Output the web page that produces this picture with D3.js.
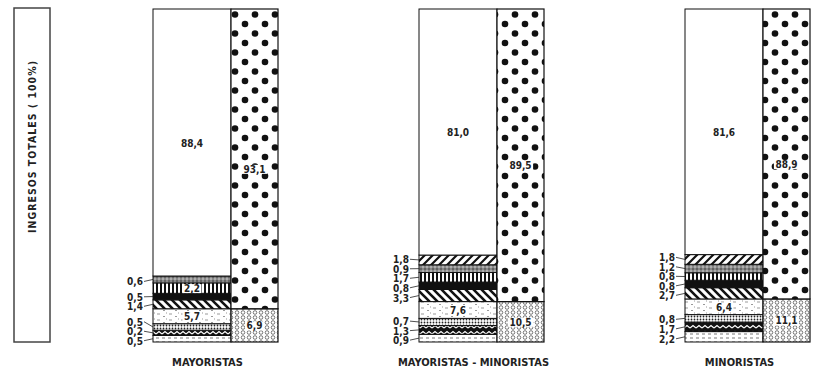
<!DOCTYPE html>
<html>
<head>
<meta charset="utf-8">
<script src="https://cdn.jsdelivr.net/npm/d3@7"></script>
<style>
  body { margin: 0; background: #fff; }
  text { font-family: "Liberation Sans Narrow", "DejaVu Sans Condensed", "Arial Narrow", sans-serif; font-weight: bold; fill: #222; }
</style>
</head>
<body>
<div id="container"></div>
<script>
const width = 821, height = 374;

// groups (bottom labels)
const groups = ["MAYORISTAS", "MAYORISTAS - MINORISTAS", "MINORISTAS"];

// left bar segments, bottom -> top (cat 8 missing for MAYORISTAS)
const leftMayoristas = [0.5, 0.2, 0.5, 5.7, 1.4, 0.5, 2.2, 0.6, 0, 88.4];
const leftMayMin     = [0.9, 1.3, 0.7, 7.6, 3.3, 0.8, 1.7, 0.9, 1.8, 81.0];
const leftMinoristas = [2.2, 1.7, 0.8, 6.4, 2.7, 0.8, 0.8, 1.2, 1.8, 81.6];

// right bar segments, bottom -> top
const rightMayoristas = [6.9, 93.1];
const rightMayMin     = [10.5, 89.5];
const rightMinoristas = [11.1, 88.9];

const leftValues = [leftMayoristas, leftMayMin, leftMinoristas];
const rightValues = [rightMayoristas, rightMayMin, rightMinoristas];

const axisTitle = "INGRESOS  TOTALES  ( 100%)";

const fmt = v => d3.format(".1f")(v).replace(".", ",");

/* SCALES */
const xScale = d3.scalePoint().domain(groups).range([153, 685]);
const yScale = d3.scaleLinear().domain([0, 100]).range([342, 9]);
// the small shares are drawn exaggerated (schematic figure), top share fills the rest
const hScale = d3.scaleSqrt().domain([0, 10]).range([3, 3 + 5 * Math.sqrt(10)]);

const leftW = 78, rightW = 47;

const svg = d3.select("#container").append("svg")
  .attr("width", width).attr("height", height);

/* PATTERNS */
const defs = svg.append("defs");
function pat(id, w, h, bg) {
  const p = defs.append("pattern").attr("id", id)
    .attr("patternUnits", "userSpaceOnUse").attr("width", w).attr("height", h);
  p.append("rect").attr("width", w).attr("height", h).attr("fill", bg);
  return p;
}
let p;
p = pat("c0", 6, 4, "#fff");
p.append("path").attr("d", "M0,2h3").attr("stroke", "#777").attr("stroke-width", 1);
p = pat("c1", 6, 6, "#111");
p.append("path").attr("d", "M0,4L3,1.5L6,4").attr("stroke", "#fff").attr("stroke-width", 1.2).attr("fill", "none");
p = pat("c2", 3, 3, "#fff");
p.append("circle").attr("cx", 1.5).attr("cy", 1.5).attr("r", 0.9).attr("fill", "#222");
p = pat("c3", 12, 6, "#fff");
p.append("path").attr("d", "M1,2h3M7,4.5h2M10,1h1").attr("stroke", "#999").attr("stroke-width", 1);
p = pat("c4", 8, 8, "#fff");
p.append("path").attr("d", "M0,0L8,8M-4,4L4,12M4,-4L12,4").attr("stroke", "#111").attr("stroke-width", 2.6);
p = pat("c5", 4, 4, "#111");
p = pat("c6", 4, 4, "#fff");
p.append("rect").attr("width", 2).attr("height", 4).attr("fill", "#111");
p = pat("c7", 4, 4, "#888");
p.append("circle").attr("cx", 1).attr("cy", 1).attr("r", 0.8).attr("fill", "#333");
p.append("circle").attr("cx", 3).attr("cy", 3).attr("r", 0.8).attr("fill", "#ddd");
p = pat("c8", 8, 8, "#fff");
p.append("path").attr("d", "M0,8L8,0M-4,4L4,-4M4,12L12,4").attr("stroke", "#111").attr("stroke-width", 2.2);
p = pat("c9", 4, 4, "#fff");
p = pat("r0", 6, 5, "#fff");
p.append("circle").attr("cx", 3).attr("cy", 2.5).attr("r", 1.8).attr("fill", "none").attr("stroke", "#555").attr("stroke-width", 0.8);
p = pat("r1", 20, 19, "#fff");
p.append("circle").attr("cx", 5).attr("cy", 5).attr("r", 3.3).attr("fill", "#111");
p.append("circle").attr("cx", 15).attr("cy", 14.5).attr("r", 3.3).attr("fill", "#111");

/* LEFT TITLE BOX */
svg.append("rect")
  .attr("x", 14).attr("y", 8).attr("width", 36).attr("height", 334)
  .attr("fill", "none").attr("stroke", "#444").attr("stroke-width", 1.5);
svg.append("text")
  .attr("transform", "translate(35.5,147) rotate(-90)")
  .attr("text-anchor", "middle")
  .attr("font-size", 10.5)
  .attr("textLength", 172)
  .text(axisTitle);

// text with a white box behind it
function boxedText(parent, x, y, str) {
  const r = parent.append("rect").attr("fill", "#fff");
  const t = parent.append("text")
    .attr("x", x).attr("y", y)
    .attr("text-anchor", "middle").attr("font-size", 10)
    .text(str);
  const bb = t.node().getBBox();
  r.attr("x", bb.x - 1.5).attr("y", bb.y + 1)
    .attr("width", bb.width + 3).attr("height", bb.height - 2);
}

/* BARS */
groups.forEach((g, gi) => {
  const x0 = xScale(g);
  const x1 = x0 + leftW;
  const bottom = yScale(0), top = yScale(100);

  // left bar segments
  let y = bottom;
  const segs = [];
  leftValues[gi].forEach((v, ci) => {
    if (!v) return;
    const last = ci === leftValues[gi].length - 1;
    const h = last ? y - top : hScale(v);
    segs.push({ v, ci, y0: y - h, y1: y, yc: y - h / 2 });
    y -= h;
  });
  const bottomTop = segs.filter(s => s.ci <= 3).reduce((m, s) => Math.min(m, s.y0), bottom);

  const gg = svg.append("g");
  gg.selectAll("rect.seg").data(segs).join("rect")
    .attr("class", "seg")
    .attr("x", x0).attr("width", leftW)
    .attr("y", d => d.y0).attr("height", d => d.y1 - d.y0)
    .attr("fill", d => `url(#c${d.ci})`)
    .attr("stroke", "#111").attr("stroke-width", 1);

  // right bar
  const rsegs = [
    { v: rightValues[gi][0], y0: bottomTop, y1: bottom, id: "r0" },
    { v: rightValues[gi][1], y0: top, y1: bottomTop, id: "r1" }
  ];
  gg.selectAll("rect.rseg").data(rsegs).join("rect")
    .attr("class", "rseg")
    .attr("x", x1).attr("width", rightW)
    .attr("y", d => d.y0).attr("height", d => d.y1 - d.y0)
    .attr("fill", d => `url(#${d.id})`)
    .attr("stroke", "#111").attr("stroke-width", 1.2);

  // labels inside
  const inside = segs.filter(s => s.ci === 3 || s.ci === 9 || (s.ci === 6 && s.v >= 2));
  inside.forEach(s => {
    if (s.ci === 9) {
      gg.append("text")
        .attr("x", x0 + leftW / 2).attr("y", s.yc + 4)
        .attr("text-anchor", "middle").attr("font-size", 10)
        .text(fmt(s.v));
    } else {
      boxedText(gg, x0 + leftW / 2, s.yc + 4, fmt(s.v));
    }
  });

  // right labels
  rsegs.forEach((s, i) => {
    const yc = i === 0 ? (s.y0 + s.y1) / 2 + 4 : (s.y0 + s.y1) / 2 + 14;
    boxedText(gg, x1 + rightW / 2, yc, fmt(s.v));
  });

  // outside labels with leader lines (stacked from bottom up)
  const outside = segs.filter(s => !inside.includes(s)).sort((a, b) => b.yc - a.yc);
  let prev = Infinity;
  outside.forEach(s => { s.ly = Math.min(s.yc + 2, prev - 9.5); prev = s.ly; });
  outside.forEach(s => {
    gg.append("text")
      .attr("x", x0 - 10).attr("y", s.ly + 4)
      .attr("text-anchor", "end").attr("font-size", 10)
      .text(fmt(s.v));
    gg.append("line")
      .attr("x1", x0 - 9).attr("y1", s.ly)
      .attr("x2", x0).attr("y2", s.yc)
      .attr("stroke", "#222").attr("stroke-width", 0.8);
  });

  // group label
  svg.append("text")
    .attr("x", x0 + (leftW + rightW) / 2 - 8).attr("y", 366)
    .attr("text-anchor", "middle").attr("font-size", 11)
    .text(g);
});
</script>
</body>
</html>
